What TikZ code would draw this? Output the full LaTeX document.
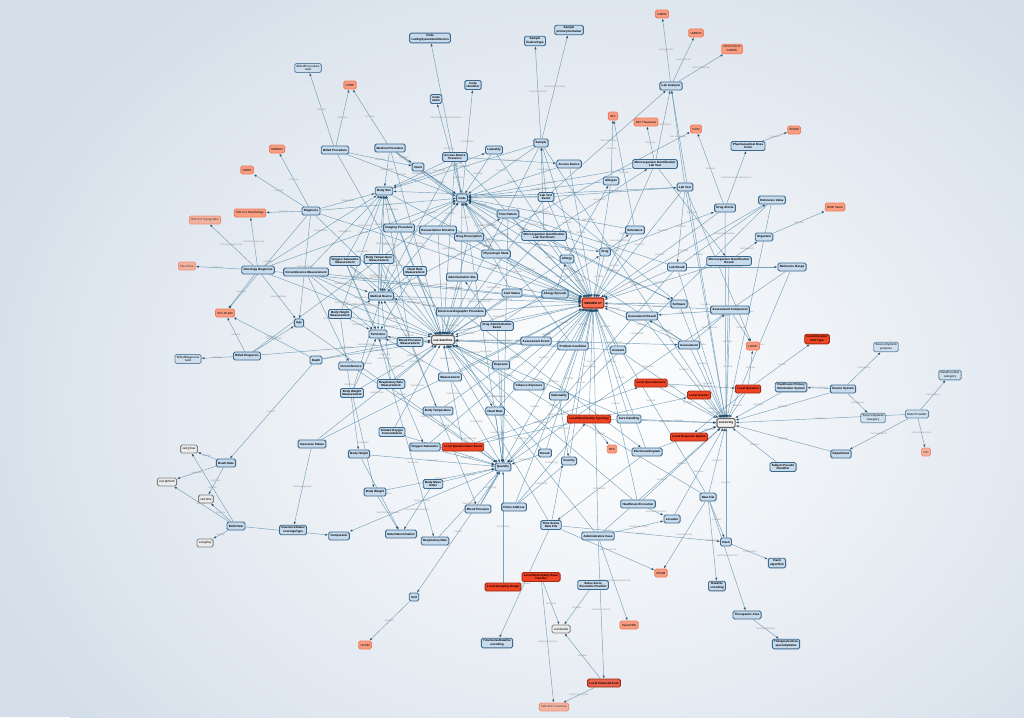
\documentclass[tikz,border=0pt]{standalone}
\usepackage{fontspec}
\setsansfont{Liberation Sans}
\usetikzlibrary{positioning,arrows.meta}
\pgfdeclarelayer{back}
\pgfdeclarelayer{wires}
\pgfsetlayers{back,wires,main}
\definecolor{bgtint}{RGB}{212,222,233}
\definecolor{wire}{RGB}{74,130,164}
\definecolor{tipc}{RGB}{36,76,106}
\definecolor{clsfill}{RGB}{199,219,236}
\definecolor{clsdraw}{RGB}{60,104,140}
\definecolor{termfill}{RGB}{249,158,130}
\definecolor{termdraw}{RGB}{240,124,96}
\definecolor{sctfill}{RGB}{248,112,84}
\definecolor{localfill}{RGB}{241,68,36}
\definecolor{localdraw}{RGB}{160,42,20}
\definecolor{costfill}{RGB}{232,98,76}
\definecolor{xsdfill}{RGB}{236,236,236}
\definecolor{xsddraw}{RGB}{128,128,128}

\begin{document}
\begin{tikzpicture}[x=1pt,y=-1pt,
  box/.style={rectangle,rounded corners=1.5pt,line width=0.9pt,align=center,
    inner xsep=1.8pt,inner ysep=1.6pt,minimum height=8pt,
    font=\sffamily\bfseries\fontsize{3.0}{3.6}\selectfont},
  cls/.style={box,fill=clsfill,draw=clsdraw},
  faint/.style={opacity=0.72},
  term/.style={box,fill=termfill,draw=termdraw,font=\sffamily\fontsize{3.0}{3.6}\selectfont},
  sctbox/.style={box,fill=sctfill,draw=localdraw,line width=1.1pt,minimum height=10pt},
  local/.style={box,fill=localfill,draw=localdraw},
  xsd/.style={box,fill=xsdfill,draw=xsddraw,font=\sffamily\fontsize{3.0}{3.6}\selectfont},
  hub/.style={box,fill=white!94!black,draw=black!60,line width=1.1pt,minimum height=9pt},
  link/.style={draw=wire,line width=0.45pt,draw opacity=0.72,
    -{Latex[length=3pt,width=2.3pt,color=tipc]}},
  lbl/.style={font=\sffamily\fontsize{2.3}{2.7}\selectfont,text=black!42,inner sep=0.3pt},
  ]
  \useasboundingbox (0,0) rectangle (1024,717);
  \begin{pgfonlayer}{back}
    \fill[bgtint] (0,0) rectangle (1024,717);
    \shade[inner color=white,outer color=bgtint] (585,400) ellipse [x radius=650, y radius=520];
  \end{pgfonlayer}

  % hubs
  \node[sctbox] (sct) at (593,303) {SNOMED CT};
  \node[hub] (dtm) at (443,340) {xsd:dateTime};
  \node[hub] (str) at (726,423) {xsd:string};

  % upper part
  \node[cls,faint] (bprocrank) at (308,68) {BilledProcedure\\rank};
  \node[cls] (codecs) at (430,38) {Code\\codingSystemAndVersion};
  \node[cls] (codename) at (436,99) {Code\\name};
  \node[cls] (codeid) at (473,85) {Code\\identifier};
  \node[cls] (sfix) at (535,41) {Sample\\fixationType};
  \node[cls] (scont) at (569,30) {Sample\\primaryContainer};
  \node[term] (chop) at (350,85) {CHOP};
  \node[term] (mondo) at (277,149) {MONDO};
  \node[term] (ordo) at (247,170) {ORDO};
  \node[term] (gmdn) at (662,14) {GMDN};
  \node[term] (umdns) at (696,33) {UMDNS};
  \node[term] (udi) at (732,49) {UDI-DI (from\\GUDID)};
  \node[term] (atc) at (613,116) {ATC};
  \node[term] (ncit) at (646,122) {NCI Thesaurus};
  \node[term] (gtin) at (696,129) {GTIN};
  \node[term] (edqm) at (794,130) {EDQM};
  \node[term] (ncbi) at (835,207) {NCBI Taxon};
  \node[cls] (bproc) at (335,150) {Billed Procedure};
  \node[cls] (mproc) at (390,148) {Medical Procedure};
  \node[cls] (intent) at (418,167) {Intent};
  \node[cls] (adp) at (455,157) {Access Device\\Presence};
  \node[cls] (later) at (494,150) {Laterality};
  \node[cls] (bsite) at (384,191) {Body Site};
  \node[cls] (code) at (462,198) {Code};
  \node[cls] (diag) at (311,211) {Diagnosis};
  \node[term] (icdmorph) at (250,213) {ICD-O-3 Morphology};
  \node[term,faint] (icdtopo) at (205,220) {ICD-O-3 Topography};
  \node[cls] (imgproc) at (399,228) {Imaging Procedure};
  \node[cls] (resus) at (438,230) {Resuscitation Directive};
  \node[cls] (drugpres) at (469,237) {Drug Prescription};
  \node[cls] (tpat) at (508,214) {Time Pattern};
  \node[cls] (sample) at (541,143) {Sample};
  \node[cls] (adev) at (569,164) {Access Device};
  \node[cls] (labana) at (671,86) {Lab Analyzer};
  \node[cls] (mitest) at (655,164) {Microorganism Identification\\Lab Test};
  \node[cls] (allergen) at (611,181) {Allergen};
  \node[cls] (labtest) at (685,187) {Lab Test};
  \node[cls] (ltevent) at (546,197) {Lab Test\\Event};
  \node[cls] (pdf) at (748,146) {Pharmaceutical Dose\\Form};
  \node[cls] (drugart) at (725,208) {Drug Article};
  \node[cls] (refval) at (772,200) {Reference Value};
  \node[cls] (mievent) at (544,236) {Microorganism Identification\\Lab Test Event};
  \node[cls] (subst) at (635,230) {Substance};
  \node[cls] (organism) at (764,237) {Organism};
  \node[cls] (drug) at (605,252) {Drug};
  \node[cls] (allergy) at (567,259) {Allergy};
  \node[cls] (labres) at (677,267) {Lab Result};
  \node[cls] (mires) at (729,261) {Microorganism Identification\\Result};
  \node[cls] (refrange) at (792,267) {Reference Range};

  % middle part
  \node[term,faint] (oncotree) at (187,266) {OncoTree};
  \node[cls] (oncdiag) at (258,270) {Oncology Diagnosis};
  \node[term] (icd10) at (225,313) {ICD-10-GM};
  \node[cls] (circm) at (306,272) {Circumference Measurement};
  \node[cls] (oxym) at (345,261) {Oxygen Saturation\\Measurement};
  \node[cls] (btempm) at (379,259) {Body Temperature\\Measurement};
  \node[cls] (hrm) at (415,271) {Heart Rate\\Measurement};
  \node[cls] (asite) at (462,277) {Administration Site};
  \node[cls] (phys) at (496,254) {Physiologic State};
  \node[cls] (civil) at (512,293) {Civil Status};
  \node[cls] (alepi) at (555,294) {Allergy Episode};
  \node[cls] (software) at (679,304) {Software};
  \node[cls] (acomp) at (730,310) {Assessment Component};
  \node[cls] (ares) at (642,316) {Assessment Result};
  \node[cls] (mdev) at (381,296) {Medical Device};
  \node[cls] (ecgproc) at (461,312) {Electrocardiographic Procedure};
  \node[cls] (dae) at (497,326) {Drug Administration\\Event};
  \node[cls] (bhm) at (340,314) {Body Height\\Measurement};
  \node[cls] (age) at (299,323) {Age};
  \node[cls] (perf) at (378,334) {Performer};
  \node[cls] (bpm) at (410,342) {Blood Pressure\\Measurement};
  \node[cls] (aevent) at (536,341) {Assessment Event};
  \node[cls] (prob) at (573,346) {Problem Condition};
  \node[cls] (consent) at (618,350) {Consent};
  \node[cls] (assess) at (689,345) {Assessment};
  \node[term] (loinc) at (753,346) {LOINC};
  \node[local] (ldur) at (817,339) {Local Duration\\Unit Type};
  \node[cls] (bdiag) at (247,356) {Billed Diagnosis};
  \node[cls,faint] (bdiagrank) at (188,359) {BilledDiagnosis\\rank};
  \node[cls] (death) at (316,360) {Death};
  \node[cls] (circ) at (351,366) {Circumference};
  \node[cls] (expo) at (501,365) {Exposure};
  \node[cls] (meas) at (450,377) {Measurement};
  \node[cls] (rrm) at (391,384) {Respiratory Rate\\Measurement};
  \node[cls] (bwm) at (352,393) {Body Weight\\Measurement};
  \node[cls] (tobacco) at (529,386) {Tobacco Exposure};
  \node[cls] (nation) at (559,396) {Nationality};
  \node[local] (lqn) at (651,383) {Local Questionnaire};
  \node[local] (lans) at (699,395) {Local Answer};
  \node[local] (lq) at (748,389) {Local Question};
  \node[cls] (hpis) at (791,387) {Healthcare Primary\\Information System};
  \node[cls] (srcsys) at (843,389) {Source System};
  \node[cls,faint] (srcpurp) at (886,347) {SourceSystem\\purpose};
  \node[cls,faint] (srccat) at (873,418) {SourceSystem\\category};
  \node[cls,faint] (dpcat) at (950,375) {DataProvider\\category};
  \node[cls,faint] (dprov) at (917,414) {Data Provider};
  \node[term,faint] (uid) at (926,452) {UID};
  \node[cls] (dept) at (841,454) {Department};
  \node[cls] (btemp) at (438,411) {Body Temperature};
  \node[cls] (hr) at (495,411) {Heart Rate};
  \node[local] (lmt) at (589,419) {Local Municipality Typology};
  \node[cls] (care) at (629,419) {Care Handling};
  \node[local] (lro) at (689,437) {Local Response Option};
  \node[term] (bfs) at (612,449) {BFS};
  \node[cls] (ecg) at (647,452) {Electrocardiogram};
  \node[cls] (inhox) at (392,432) {Inhaled Oxygen\\Concentration};
  \node[cls] (insur) at (312,444) {Insurance Status};
  \node[cls] (oxy) at (425,447) {Oxygen Saturation};
  \node[local] (lqe) at (463,447) {Local Questionnaire Event};
  \node[cls] (bheight) at (359,454) {Body Height};
  \node[cls] (qty) at (503,467) {Quantity};
  \node[cls] (result) at (545,453) {Result};
  \node[cls] (country) at (569,461) {Country};
  \node[cls] (subjid) at (783,467) {Subject Pseudo\\Identifier};

  % lower part
  \node[xsd] (gyear) at (189,449) {xsd:gYear};
  \node[xsd] (gmonth) at (167,482) {xsd:gMonth};
  \node[xsd] (xtime) at (206,499) {xsd:time};
  \node[xsd] (gday) at (205,543) {xsd:gDay};
  \node[cls] (deathdate) at (226,463) {Death Date};
  \node[cls] (birthdate) at (236,526) {Birth Date};
  \node[cls] (bweight) at (375,492) {Body Weight};
  \node[cls] (bmi) at (433,484) {Body Mass\\Index};
  \node[cls] (bp) at (478,509) {Blood Pressure};
  \node[cls] (home) at (514,507) {Home Address};
  \node[cls] (datafile) at (708,497) {Data File};
  \node[cls] (hcenc) at (638,504) {Healthcare Encounter};
  \node[cls] (location) at (672,519) {Location};
  \node[cls] (tsdf) at (551,525) {Time Series\\Data File};
  \node[cls] (covtype) at (293,530) {InsuranceStatus\\coverageType};
  \node[cls] (comparator) at (339,536) {Comparator};
  \node[cls] (datadet) at (401,534) {Data Determination};
  \node[cls] (rr) at (435,541) {Respiratory Rate};
  \node[cls] (admcase) at (598,536) {Administrative Case};
  \node[cls] (hash) at (726,542) {Hash};
  \node[cls] (hashalg) at (777,563) {Hash\\algorithm};
  \node[term] (edam) at (661,573) {EDAM};
  \node[local] (lmb) at (541,577) {Local Municipality Brain\\Transfer};
  \node[local] (lgr) at (503,587) {Local Grouping Range};
  \node[cls] (ssep) at (593,585) {Swiss Socio\\Economic Position};
  \node[cls] (dfenc) at (717,586) {DataFile\\encoding};
  \node[cls] (unit) at (414,597) {Unit};
  \node[cls] (tharea) at (747,615) {Therapeutic Area};
  \node[cls] (thspec) at (786,644) {TherapeuticArea\\specialtyName};
  \node[xsd] (xdouble) at (561,629) {xsd:double};
  \node[term] (swissdrg) at (629,625) {SwissDRG};
  \node[term] (ucum) at (365,645) {UCUM};
  \node[cls] (tsenc) at (497,643) {TimeSeriesDataFile\\encoding};
  \node[box,fill=costfill,draw=localdraw] (lfc) at (604,683) {Local Financial Cost};
  \node[term,faint] (iso) at (554,707) {ISO 4217 Currency};

  \begin{pgfonlayer}{wires}
  % codes
  \path[link]
  (allergy) edge node[lbl]{hasCode} (sct)
  (alepi) edge node[lbl]{hasCode} (sct)
  (drug) edge node[lbl]{hasCode} (sct)
  (subst) edge node[lbl]{hasCode} (sct)
  (allergen) edge node[lbl]{hasCode} (sct)
  (tpat) edge node[lbl]{hasCode} (sct)
  (mievent) edge node[lbl]{hasCode} (sct)
  (ltevent) edge node[lbl]{hasCode} (sct)
  (adev) edge node[lbl]{hasCode} (sct)
  (sample) edge node[lbl]{hasCode} (sct)
  (later) edge node[lbl]{hasCode} (sct)
  (intent) edge node[lbl]{hasCode} (sct)
  (mproc) edge node[lbl]{hasCode} (sct)
  (adp) edge node[lbl]{hasCode} (sct)
  (drugpres) edge node[lbl]{hasCode} (sct)
  (resus) edge node[lbl]{hasCode} (sct)
  (imgproc) edge node[lbl]{hasCode} (sct)
  (phys) edge node[lbl]{hasCode} (sct)
  (asite) edge node[lbl]{hasCode} (sct)
  (civil) edge node[lbl]{hasCode} (sct)
  (ecgproc) edge node[lbl]{hasCode} (sct)
  (dae) edge node[lbl]{hasCode} (sct)
  (aevent) edge node[lbl]{hasCode} (sct)
  (prob) edge node[lbl]{hasCode} (sct)
  (consent) edge node[lbl]{hasCode} (sct)
  (ares) edge node[lbl]{hasCode} (sct)
  (software) edge node[lbl]{hasCode} (sct)
  (assess) edge node[lbl]{hasCode} (sct)
  (nation) edge node[lbl]{hasCode} (sct)
  (tobacco) edge node[lbl]{hasCode} (sct)
  (expo) edge node[lbl]{hasCode} (sct)
  (care) edge node[lbl]{hasCode} (sct)
  (result) edge node[lbl]{hasCode} (sct)
  (country) edge node[lbl]{hasCode} (sct)
  (ecg) edge node[lbl]{hasCode} (sct)
  (hcenc) edge node[lbl]{hasCode} (sct)
  (admcase) edge node[lbl]{hasCode} (sct)
  (tsdf) edge node[lbl]{hasCode} (sct)
  (home) edge node[lbl]{hasCode} (sct)
  (datafile) edge node[lbl]{hasCode} (sct)
  (labres) edge node[lbl]{hasCode} (sct)
  (mires) edge node[lbl]{hasCode} (sct)
  (labtest) edge node[lbl]{hasCode} (sct)
  (drugart) edge node[lbl]{hasCode} (sct)
  (refval) edge node[lbl]{hasCode} (sct)
  (acomp) edge node[lbl]{hasCode} (sct)
  (diag) edge node[lbl]{hasCode} (sct)
  (oncdiag) edge node[lbl]{hasCode} (sct)
  (mdev) edge node[lbl]{hasCode} (sct)
  (meas) edge node[lbl]{hasCode} (sct)
  (hr) edge node[lbl]{hasCode} (sct)
  (btemp) edge node[lbl]{hasCode} (sct)
  (oxy) edge node[lbl]{hasCode} (sct)
  (bp) edge node[lbl]{hasCode} (sct)
  (death) edge node[lbl]{hasCode} (sct)
  (insur) edge node[lbl]{hasCode} (sct)
  (bsite) edge node[lbl]{hasCode} (sct)
  (circm) edge node[lbl]{hasCode} (sct)
  (lmt) edge node[lbl]{hasCode} (sct)
  (mitest) edge node[lbl]{hasCode} (sct);

  \path[link]
  (adp) edge node[lbl]{hasCode} (code)
  (drugpres) edge node[lbl]{hasCode} (code)
  (resus) edge node[lbl]{hasCode} (code)
  (imgproc) edge node[lbl]{hasCode} (code)
  (tpat) edge node[lbl]{hasCode} (code)
  (sample) edge node[lbl]{hasCode} (code)
  (adev) edge node[lbl]{hasCode} (code)
  (labtest) edge node[lbl]{hasCode} (code)
  (ltevent) edge node[lbl]{hasCode} (code)
  (mitest) edge node[lbl]{hasCode} (code)
  (allergen) edge node[lbl]{hasCode} (code)
  (subst) edge node[lbl]{hasCode} (code)
  (phys) edge node[lbl]{hasCode} (code)
  (diag) edge node[lbl]{hasCode} (code)
  (intent) edge node[lbl]{hasCode} (code)
  (mproc) edge node[lbl]{hasCode} (code)
  (ecgproc) edge node[lbl]{hasCode} (code)
  (assess) edge node[lbl]{hasCode} (code)
  (software) edge node[lbl]{hasCode} (code)
  (labres) edge node[lbl]{hasCode} (code)
  (prob) edge node[lbl]{hasCode} (code)
  (civil) edge node[lbl]{hasCode} (code)
  (drug) edge node[lbl]{hasCode} (code)
  (mdev) edge node[lbl]{hasCode} (code)
  (later) edge node[lbl]{hasCode} (code)
  (bproc) edge node[lbl]{hasCode} (code)
  (oncdiag) edge node[lbl]{hasCode} (code)
  (bdiag) edge node[lbl]{hasCode} (code);

  % date and time
  \path[link]
  (bproc) edge node[lbl]{hasDateTime} (dtm)
  (mproc) edge node[lbl]{hasDateTime} (dtm)
  (diag) edge node[lbl]{hasDateTime} (dtm)
  (oncdiag) edge node[lbl]{hasDateTime} (dtm)
  (bdiag) edge node[lbl]{hasDateTime} (dtm)
  (circm) edge node[lbl]{hasDateTime} (dtm)
  (oxym) edge node[lbl]{hasDateTime} (dtm)
  (btempm) edge node[lbl]{hasDateTime} (dtm)
  (hrm) edge node[lbl]{hasDateTime} (dtm)
  (bhm) edge node[lbl]{hasDateTime} (dtm)
  (bpm) edge node[lbl]{hasDateTime} (dtm)
  (rrm) edge node[lbl]{hasDateTime} (dtm)
  (bwm) edge node[lbl]{hasDateTime} (dtm)
  (imgproc) edge node[lbl]{hasDateTime} (dtm)
  (ecgproc) edge node[lbl]{hasDateTime} (dtm)
  (dae) edge node[lbl]{hasDateTime} (dtm)
  (drugpres) edge node[lbl]{hasDateTime} (dtm)
  (resus) edge node[lbl]{hasDateTime} (dtm)
  (ltevent) edge node[lbl]{hasDateTime} (dtm)
  (mievent) edge node[lbl]{hasDateTime} (dtm)
  (alepi) edge node[lbl]{hasDateTime} (dtm)
  (aevent) edge node[lbl]{hasDateTime} (dtm)
  (prob) edge node[lbl]{hasDateTime} (dtm)
  (consent) edge node[lbl]{hasDateTime} (dtm)
  (expo) edge node[lbl]{hasDateTime} (dtm)
  (tobacco) edge node[lbl]{hasDateTime} (dtm)
  (meas) edge node[lbl]{hasDateTime} (dtm)
  (death) edge node[lbl]{hasDateTime} (dtm)
  (insur) edge node[lbl]{hasDateTime} (dtm)
  (sample) edge node[lbl]{hasDateTime} (dtm)
  (adp) edge node[lbl]{hasDateTime} (dtm)
  (hcenc) edge node[lbl]{hasDateTime} (dtm)
  (admcase) edge node[lbl]{hasDateTime} (dtm)
  (tsdf) edge node[lbl]{hasDateTime} (dtm)
  (datafile) edge node[lbl]{hasDateTime} (dtm)
  (lqe) edge node[lbl]{hasDateTime} (dtm)
  (care) edge node[lbl]{hasDateTime} (dtm)
  (inhox) edge node[lbl]{hasDateTime} (dtm)
  (allergy) edge node[lbl]{hasDateTime} (dtm)
  (civil) edge node[lbl]{hasDateTime} (dtm)
  (asite) edge node[lbl]{hasDateTime} (dtm)
  (result) edge node[lbl]{hasDateTime} (dtm);

  % literal values
  \path[link]
  (labtest) edge node[lbl]{hasValue} (str)
  (labres) edge node[lbl]{hasValue} (str)
  (mires) edge node[lbl]{hasValue} (str)
  (software) edge node[lbl]{hasValue} (str)
  (assess) edge node[lbl]{hasValue} (str)
  (acomp) edge node[lbl]{hasValue} (str)
  (ares) edge node[lbl]{hasValue} (str)
  (lqn) edge node[lbl]{hasValue} (str)
  (lq) edge node[lbl]{hasValue} (str)
  (lans) edge node[lbl]{hasValue} (str)
  (lro) edge node[lbl]{hasValue} (str)
  (hpis) edge node[lbl]{hasValue} (str)
  (srcsys) edge node[lbl]{hasValue} (str)
  (subjid) edge node[lbl]{hasValue} (str)
  (dept) edge node[lbl]{hasValue} (str)
  (datafile) edge node[lbl]{hasValue} (str)
  (hash) edge node[lbl]{hasValue} (str)
  (hcenc) edge node[lbl]{hasValue} (str)
  (location) edge node[lbl]{hasValue} (str)
  (admcase) edge node[lbl]{hasValue} (str)
  (ecg) edge node[lbl]{hasValue} (str)
  (consent) edge node[lbl]{hasValue} (str)
  (lmt) edge node[lbl]{hasValue} (str)
  (refrange) edge node[lbl]{hasValue} (str)
  (refval) edge node[lbl]{hasValue} (str)
  (drugart) edge node[lbl]{hasValue} (str)
  (labana) edge node[lbl]{hasValue} (str)
  (dprov) edge node[lbl]{hasValue} (str)
  (care) edge node[lbl]{hasValue} (str)
  (sample) edge node[lbl]{hasValue} (str);

  % quantities
  \path[link]
  (btemp) edge node[lbl]{hasQuantity} (qty)
  (hr) edge node[lbl]{hasQuantity} (qty)
  (oxy) edge node[lbl]{hasQuantity} (qty)
  (bheight) edge node[lbl]{hasQuantity} (qty)
  (bweight) edge node[lbl]{hasQuantity} (qty)
  (bmi) edge node[lbl]{hasQuantity} (qty)
  (bp) edge node[lbl]{hasQuantity} (qty)
  (rr) edge node[lbl]{hasQuantity} (qty)
  (circ) edge node[lbl]{hasQuantity} (qty)
  (inhox) edge node[lbl]{hasQuantity} (qty)
  (age) edge node[lbl]{hasQuantity} (qty)
  (result) edge node[lbl]{hasQuantity} (qty)
  (labres) edge node[lbl]{hasQuantity} (qty)
  (dae) edge node[lbl]{hasQuantity} (qty)
  (drugpres) edge node[lbl]{hasQuantity} (qty)
  (expo) edge node[lbl]{hasQuantity} (qty)
  (meas) edge node[lbl]{hasQuantity} (qty)
  (refval) edge node[lbl]{hasQuantity} (qty)
  (refrange) edge node[lbl]{hasQuantity} (qty)
  (lgr) edge node[lbl]{hasQuantity} (qty)
  (tpat) edge node[lbl]{hasQuantity} (qty);

  % body site, device, performer
  \path[link]
  (mproc) edge node[lbl]{hasBodySite} (bsite)
  (imgproc) edge node[lbl]{hasBodySite} (bsite)
  (adp) edge node[lbl]{hasBodySite} (bsite)
  (circm) edge node[lbl]{hasBodySite} (bsite)
  (oxym) edge node[lbl]{hasBodySite} (bsite)
  (btempm) edge node[lbl]{hasBodySite} (bsite)
  (hrm) edge node[lbl]{hasBodySite} (bsite)
  (bpm) edge node[lbl]{hasBodySite} (bsite)
  (mdev) edge node[lbl]{hasBodySite} (bsite)
  (sample) edge node[lbl]{hasBodySite} (bsite)
  (diag) edge node[lbl]{hasBodySite} (bsite)
  (oncdiag) edge node[lbl]{hasBodySite} (bsite)
  (ltevent) edge node[lbl]{hasBodySite} (bsite)
  (bhm) edge node[lbl]{hasBodySite} (bsite)
  (bpm) edge node[lbl]{hasMedicalDevice} (mdev)
  (oxym) edge node[lbl]{hasMedicalDevice} (mdev)
  (btempm) edge node[lbl]{hasMedicalDevice} (mdev)
  (hrm) edge node[lbl]{hasMedicalDevice} (mdev)
  (rrm) edge node[lbl]{hasMedicalDevice} (mdev)
  (bhm) edge node[lbl]{hasMedicalDevice} (mdev)
  (bwm) edge node[lbl]{hasMedicalDevice} (mdev)
  (circm) edge node[lbl]{hasMedicalDevice} (mdev)
  (imgproc) edge node[lbl]{hasMedicalDevice} (mdev)
  (ecgproc) edge node[lbl]{hasMedicalDevice} (mdev)
  (adp) edge node[lbl]{hasMedicalDevice} (mdev)
  (bpm) edge node[lbl]{hasPerformer} (perf)
  (bhm) edge node[lbl]{hasPerformer} (perf)
  (bwm) edge node[lbl]{hasPerformer} (perf)
  (rrm) edge node[lbl]{hasPerformer} (perf)
  (circm) edge node[lbl]{hasPerformer} (perf)
  (oxym) edge node[lbl]{hasPerformer} (perf)
  (btempm) edge node[lbl]{hasPerformer} (perf)
  (hrm) edge node[lbl]{hasPerformer} (perf)
  (meas) edge node[lbl]{hasPerformer} (perf);

  % upper region
  \path[link]
  (bproc) edge node[lbl]{hasRank} (bprocrank)
  (bproc) edge node[lbl]{hasCode} (chop)
  (mproc) edge node[lbl]{hasCode} (chop)
  (bproc) edge node[lbl]{hasIntent} (intent)
  (mproc) edge node[lbl]{hasIntent} (intent)
  (code) edge node[lbl]{hasCodingSystemAndVersion} (codecs)
  (code) edge node[lbl]{hasName} (codename)
  (code) edge node[lbl]{hasIdentifier} (codeid)
  (sample) edge node[lbl]{hasFixationType} (sfix)
  (sample) edge node[lbl]{hasPrimaryContainer} (scont)
  (labana) edge node[lbl]{hasTypeCode} (gmdn)
  (labana) edge node[lbl]{hasTypeCode} (umdns)
  (labana) edge node[lbl]{hasProductCode} (udi)
  (labtest) edge node[lbl]{hasLabAnalyzer} (labana)
  (mitest) edge node[lbl]{hasLabAnalyzer} (labana)
  (ltevent) edge node[lbl]{hasLabAnalyzer} (labana)
  (allergen) edge node[lbl]{hasCode} (atc)
  (subst) edge node[lbl]{hasCode} (atc)
  (mitest) edge node[lbl]{hasCode} (ncit)
  (drugart) edge node[lbl]{hasCode} (gtin)
  (mdev) edge node[lbl]{hasProductCode} (gtin)
  (drugart) edge node[lbl]{hasPharmaceuticalDoseForm} (pdf)
  (drug) edge node[lbl]{hasArticle} (drugart)
  (drug) edge node[lbl]{hasActiveIngredient} (subst)
  (pdf) edge node[lbl]{hasCode} (edqm)
  (organism) edge node[lbl]{hasCode} (ncbi)
  (mires) edge node[lbl]{hasOrganism} (organism)
  (labres) edge node[lbl]{hasReferenceRange} (refrange)
  (labres) edge node[lbl]{hasReferenceValue} (refval)
  (ltevent) edge node[lbl]{hasLabTest} (labtest)
  (labtest) edge node[lbl]{hasResult} (labres)
  (mievent) edge node[lbl]{hasLabTest} (mitest)
  (mitest) edge node[lbl]{hasResult} (mires)
  (ltevent) edge node[lbl]{hasSample} (sample)
  (mievent) edge node[lbl]{hasSample} (sample)
  (ltevent) edge node[lbl]{hasSoftware} (software)
  (mievent) edge node[lbl]{hasSoftware} (software)
  (allergy) edge node[lbl]{hasAllergen} (allergen)
  (alepi) edge node[lbl]{hasAllergy} (allergy)
  (dae) edge node[lbl]{hasDrug} (drug)
  (drugpres) edge node[lbl]{hasDrug} (drug)
  (drugpres) edge node[lbl]{hasTimePattern} (tpat)
  (dae) edge node[lbl]{hasAdministrationSite} (asite)
  (adp) edge node[lbl]{hasAccessDevice} (adev)
  (bsite) edge node[lbl]{hasLaterality} (later);

  % left region
  \path[link]
  (diag) edge node[lbl]{hasCode} (mondo)
  (diag) edge node[lbl]{hasCode} (ordo)
  (diag) edge node[lbl]{hasCode} (icdmorph)
  (diag) edge node[lbl]{hasCode} (icd10)
  (oncdiag) edge node[lbl]{hasMorphologyCode} (icdmorph)
  (oncdiag) edge node[lbl]{hasTopographyCode} (icdtopo)
  (oncdiag) edge node[lbl]{hasCode} (oncotree)
  (oncdiag) edge node[lbl]{hasCode} (icd10)
  (bdiag) edge node[lbl]{hasCode} (icd10)
  (bdiag) edge node[lbl]{hasRank} (bdiagrank)
  (death) edge node[lbl]{hasCode} (icd10)
  (diag) edge node[lbl]{hasSubjectAge} (age)
  (oncdiag) edge node[lbl]{hasSubjectAge} (age)
  (bdiag) edge node[lbl]{hasSubjectAge} (age)
  (death) edge node[lbl]{hasDate} (deathdate)
  (deathdate) edge node[lbl]{hasYear} (gyear)
  (deathdate) edge node[lbl]{hasMonth} (gmonth)
  (deathdate) edge node[lbl]{hasTime} (xtime)
  (birthdate) edge node[lbl]{hasYear} (gyear)
  (birthdate) edge node[lbl]{hasMonth} (gmonth)
  (birthdate) edge node[lbl]{hasTime} (xtime)
  (birthdate) edge node[lbl]{hasDay} (gday)
  (birthdate) edge node[lbl]{hasComparator} (comparator)
  (insur) edge node[lbl]{hasCoverageType} (covtype)
  (circm) edge node[lbl]{hasResult} (circ)
  (oxym) edge node[lbl]{hasResult} (oxy)
  (btempm) edge node[lbl]{hasResult} (btemp)
  (hrm) edge node[lbl]{hasResult} (hr)
  (bhm) edge node[lbl]{hasResult} (bheight)
  (bwm) edge node[lbl]{hasResult} (bweight)
  (bpm) edge node[lbl]{hasResult} (bp)
  (rrm) edge node[lbl]{hasResult} (rr)
  (bheight) edge node[lbl]{hasDataDetermination} (datadet)
  (bweight) edge node[lbl]{hasDataDetermination} (datadet)
  (bmi) edge node[lbl]{hasDataDetermination} (datadet)
  (qty) edge node[lbl]{hasUnit} (unit)
  (qty) edge node[lbl]{hasComparator} (comparator)
  (unit) edge node[lbl]{hasCode} (ucum);

  % right and lower region
  \path[link]
  (aevent) edge node[lbl]{hasAssessment} (assess)
  (assess) edge node[lbl]{hasComponent} (acomp)
  (assess) edge node[lbl]{hasResult} (ares)
  (acomp) edge node[lbl]{hasResult} (ares)
  (acomp) edge node[lbl]{hasCode} (loinc)
  (labtest) edge node[lbl]{hasCode} (loinc)
  (lq) edge node[lbl]{hasCode} (loinc)
  (lq) edge node[lbl]{hasUnit} (ldur)
  (lqn) edge node[lbl]{hasQuestion} (lq)
  (lq) edge node[lbl]{hasResponseOption} (lro)
  (lqe) edge node[lbl]{hasQuestionnaire} (lqn)
  (lqe) edge node[lbl]{hasAnswer} (lans)
  (nation) edge node[lbl]{hasCountry} (country)
  (home) edge node[lbl]{hasCountry} (country)
  (home) edge node[lbl]{hasTypology} (lmt)
  (lmt) edge node[lbl]{hasCode} (bfs)
  (ecgproc) edge node[lbl]{hasOutput} (ecg)
  (ecg) edge node[lbl]{hasDataFile} (tsdf)
  (hcenc) edge node[lbl]{hasCurrentLocation} (location)
  (admcase) edge node[lbl]{hasOriginLocation} (location)
  (admcase) edge node[lbl]{hasDiagnosisRelatedGroupCode} (swissdrg)
  (admcase) edge node[lbl]{hasFinancialCost} (lfc)
  (datafile) edge node[lbl]{hasHash} (hash)
  (tsdf) edge node[lbl]{hasHash} (hash)
  (hash) edge node[lbl]{hasAlgorithm} (hashalg)
  (datafile) edge node[lbl]{hasEncoding} (dfenc)
  (datafile) edge node[lbl]{hasFormatCode} (edam)
  (tsdf) edge node[lbl]{hasFormatCode} (edam)
  (tsdf) edge node[lbl]{hasEncoding} (tsenc)
  (datafile) edge node[lbl]{hasTherapeuticArea} (tharea)
  (tharea) edge node[lbl]{hasSpecialtyName} (thspec)
  (ssep) edge node[lbl]{hasValue} (xdouble)
  (lmb) edge node[lbl]{hasValue} (xdouble)
  (lmb) edge node[lbl]{hasCurrencyCode} (iso)
  (lfc) edge node[lbl]{hasValue} (xdouble)
  (lfc) edge node[lbl]{hasCurrencyCode} (iso)
  (srcsys) edge node[lbl]{hasPurpose} (srcpurp)
  (srcsys) edge node[lbl]{hasCategory} (srccat)
  (srcsys) edge node[lbl]{hasSourceSystem} (hpis)
  (dprov) edge node[lbl]{hasCategory} (dpcat)
  (dprov) edge node[lbl]{hasInstitutionCode} (uid)
  (dprov) edge node[lbl]{hasDepartment} (dept);
  \end{pgfonlayer}
\end{tikzpicture}
\end{document}
